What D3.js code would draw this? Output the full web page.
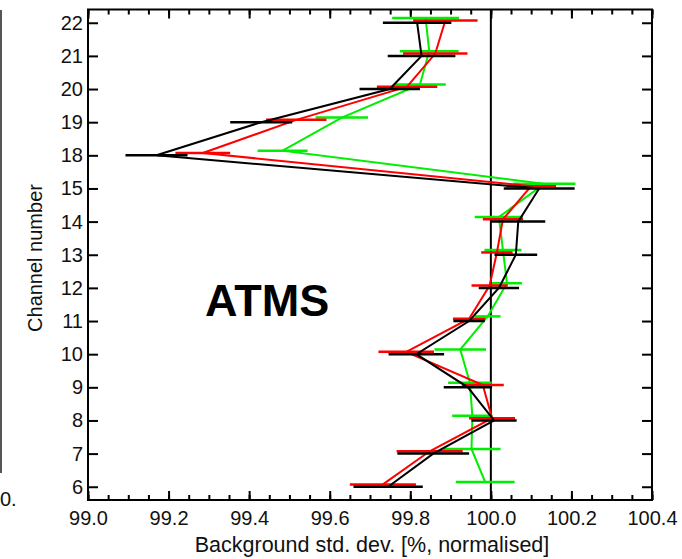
<!DOCTYPE html>
<html>
<head>
<meta charset="utf-8">
<script src="https://cdn.jsdelivr.net/npm/d3@7"></script>
<style>
  html, body { margin: 0; padding: 0; background: #fff; }
  svg { display: block; font-family: "Liberation Sans", Arial, Helvetica, sans-serif; }
</style>
</head>
<body>
<svg id="chart" width="682" height="559"></svg>
<script>
// Channel numbers in plotting order (16 and 17 are not shown)
const channels = [6, 7, 8, 9, 10, 11, 12, 13, 14, 15, 18, 19, 20, 21, 22];

// Normalised background standard deviation [%] and error half-widths per experiment
const blackVal = [99.745, 99.857, 100.008, 99.943, 99.815, 99.946, 100.02, 100.062, 100.068, 100.12, 99.17, 99.43, 99.749, 99.828, 99.817];
const blackErr = [0.086, 0.089, 0.056, 0.060, 0.069, 0.039, 0.050, 0.053, 0.067, 0.088, 0.077, 0.077, 0.075, 0.084, 0.085];

const redVal = [99.732, 99.848, 100.003, 99.98, 99.79, 99.946, 99.997, 100.015, 100.03, 100.10, 99.285, 99.517, 99.792, 99.862, 99.887];
const redErr = [0.082, 0.082, 0.057, 0.052, 0.069, 0.040, 0.045, 0.039, 0.050, 0.062, 0.068, 0.075, 0.075, 0.080, 0.080];

const greenVal = [99.986, 99.952, 99.954, 99.948, 99.924, 99.992, 100.04, 100.03, 100.02, 100.133, 99.483, 99.63, 99.824, 99.847, 99.838];
const greenErr = [0.073, 0.072, 0.050, 0.054, 0.064, 0.032, 0.037, 0.046, 0.060, 0.077, 0.062, 0.065, 0.064, 0.073, 0.083];

const xMajorTicks = [99.0, 99.2, 99.4, 99.6, 99.8, 100.0, 100.2, 100.4];

const svg = d3.select("#chart");
const plotLeft = 88, plotRight = 652, plotTop = 9.5, plotBottom = 500;

const x = d3.scaleLinear().domain([99.0, 100.4]).range([plotLeft, plotRight]);
const y = d3.scaleLinear().domain([-0.4, channels.length - 1 + 0.4]).range([plotBottom, plotTop]);
const idx = d3.range(channels.length);
const xMinorTicks = d3.range(99.0, 100.4001, 0.05).map(v => +v.toFixed(2));

// Remnant of the neighbouring panel on the left edge
svg.append("line")
  .attr("x1", 1).attr("x2", 1).attr("y1", 10).attr("y2", 473)
  .attr("stroke", "#555").attr("stroke-width", 2);
svg.append("text")
  .attr("x", 0).attr("y", 506)
  .attr("font-size", 20).attr("fill", "#111")
  .text("0.");

// Axes with inward-pointing ticks
const gB = svg.append("g").attr("transform", `translate(0,${plotBottom})`)
  .call(d3.axisBottom(x).tickValues(xMajorTicks).tickFormat(d3.format(".1f"))
    .tickSizeInner(-9).tickSizeOuter(0).tickPadding(11));
const gBm = svg.append("g").attr("transform", `translate(0,${plotBottom})`)
  .call(d3.axisBottom(x).tickValues(xMinorTicks).tickFormat("")
    .tickSizeInner(-5).tickSizeOuter(0));
const gT = svg.append("g").attr("transform", `translate(0,${plotTop})`)
  .call(d3.axisTop(x).tickValues(xMajorTicks).tickFormat("")
    .tickSizeInner(-9).tickSizeOuter(0));
const gTm = svg.append("g").attr("transform", `translate(0,${plotTop})`)
  .call(d3.axisTop(x).tickValues(xMinorTicks).tickFormat("")
    .tickSizeInner(-5).tickSizeOuter(0));
const gL = svg.append("g").attr("transform", `translate(${plotLeft},0)`)
  .call(d3.axisLeft(y).tickValues(idx).tickFormat(i => channels[i])
    .tickSizeInner(-10).tickSizeOuter(0).tickPadding(5));
const gR = svg.append("g").attr("transform", `translate(${plotRight},0)`)
  .call(d3.axisRight(y).tickValues(idx).tickFormat("")
    .tickSizeInner(-10).tickSizeOuter(0));

[gB, gBm, gT, gTm, gL, gR].forEach(g => {
  g.select(".domain").remove();
  g.selectAll(".tick line").attr("stroke", "#000").attr("stroke-width", 2);
  g.selectAll(".tick text").attr("font-size", 20).attr("fill", "#111")
    .attr("font-family", "Liberation Sans, Arial, Helvetica, sans-serif");
});

// Reference line at 100 %
svg.append("line")
  .attr("x1", x(100)).attr("x2", x(100)).attr("y1", plotTop).attr("y2", plotBottom)
  .attr("stroke", "#000").attr("stroke-width", 2);

// Series: error bars plus connecting line, slightly offset vertically
const series = [
  { vals: greenVal, errs: greenErr, color: "#00ee00", off: 0.14 },
  { vals: redVal, errs: redErr, color: "#ff0000", off: 0.07 },
  { vals: blackVal, errs: blackErr, color: "#000000", off: 0.0 }
];

series.forEach(s => {
  const g = svg.append("g");
  g.selectAll("line.err").data(idx).join("line")
    .attr("class", "err")
    .attr("x1", i => x(s.vals[i] - s.errs[i]))
    .attr("x2", i => x(s.vals[i] + s.errs[i]))
    .attr("y1", i => y(i + s.off))
    .attr("y2", i => y(i + s.off))
    .attr("stroke", s.color).attr("stroke-width", 2.5);
  g.append("path")
    .datum(idx)
    .attr("d", d3.line().x(i => x(s.vals[i])).y(i => y(i + s.off)))
    .attr("fill", "none").attr("stroke", s.color).attr("stroke-width", 2);
});

// Frame
svg.append("rect")
  .attr("x", plotLeft).attr("y", plotTop)
  .attr("width", plotRight - plotLeft).attr("height", plotBottom - plotTop)
  .attr("fill", "none").attr("stroke", "#000").attr("stroke-width", 2);

// Labels
svg.append("text")
  .attr("x", 372).attr("y", 552)
  .attr("text-anchor", "middle").attr("font-size", 21.5).attr("fill", "#111")
  .text("Background std. dev. [%, normalised]");
svg.append("text")
  .attr("transform", `translate(42,258) rotate(-90)`)
  .attr("text-anchor", "middle").attr("font-size", 20).attr("fill", "#111")
  .text("Channel number");
svg.append("text")
  .attr("x", 205).attr("y", 316)
  .attr("font-size", 45).attr("font-weight", "bold").attr("fill", "#000")
  .text("ATMS");
</script>
</body>
</html>
